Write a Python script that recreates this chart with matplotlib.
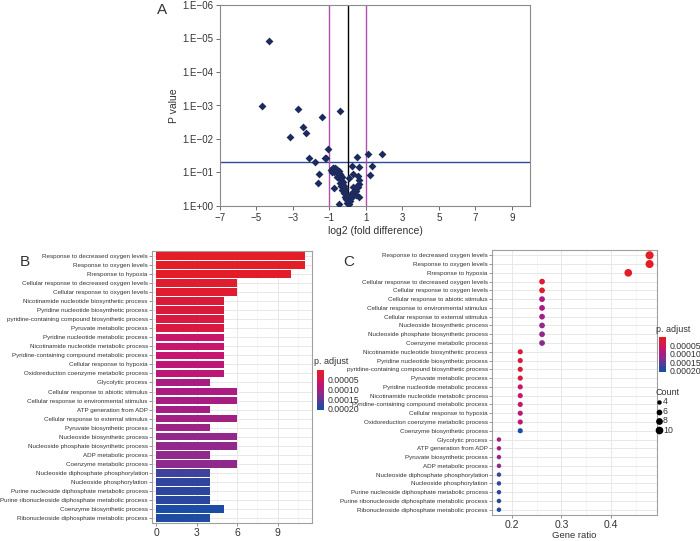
import numpy as np
import matplotlib
matplotlib.use('Agg')
import matplotlib.pyplot as plt
from matplotlib.colors import LinearSegmentedColormap, Normalize
from matplotlib.cm import ScalarMappable

plt.rcParams['font.family'] = ['Liberation Sans', 'DejaVu Sans']

# ---- panel A: volcano plot (log2 fold change, p value) ----
a_fc = [-4.33, -4.69, -2.75, -1.42, -0.40, -2.47, -2.29, -3.15, -1.09, -2.13,
        -1.25, -1.20, -1.78, 0.53, 1.09, 1.91, 0.22, 0.64, 1.33, 1.22,
        -1.55, -1.60, -0.76, -0.45, 0.29,
        -0.90, -0.82, -0.78, -0.72, -0.68, -0.62, -0.58, -0.85, -0.75, -0.65,
        -0.55, -0.48, -0.42, -0.50, -0.38, -0.45, -0.35, -0.30, -0.40, -0.32,
        -0.25, -0.36, -0.28, -0.20, -0.30, -0.22, -0.15, -0.18, -0.10, -0.12,
        -0.05, -0.08, 0.00, -0.02, 0.05, 0.08, 0.12, 0.15, 0.20, 0.25,
        0.30, 0.35, 0.40, 0.45, 0.50, 0.55, 0.60, 0.62, 0.58, 0.45,
        0.32, 0.10, 0.60, -0.60]
a_p = [1.2e-5, 1.05e-3, 1.3e-3, 2.2e-3, 1.5e-3, 4.4e-3, 6.8e-3, 8.9e-3, 0.020, 0.038,
       0.037, 0.037, 0.048, 0.035, 0.028, 0.028, 0.062, 0.069, 0.066, 0.12,
       0.11, 0.20, 0.30, 0.89, 0.11,
       0.085, 0.075, 0.071, 0.080, 0.071, 0.076, 0.085, 0.095, 0.10, 0.09,
       0.10, 0.09, 0.11, 0.12, 0.13, 0.15, 0.17, 0.14, 0.20, 0.22,
       0.19, 0.25, 0.28, 0.26, 0.33, 0.36, 0.32, 0.42, 0.45, 0.55,
       0.50, 0.63, 0.70, 0.80, 0.85, 0.60, 0.52, 0.72, 0.45, 0.55,
       0.38, 0.42, 0.30, 0.35, 0.25, 0.28, 0.22, 0.17, 0.13, 0.48,
       0.27, 0.15, 0.55, 0.14]

# ---- panel B: GO terms, counts, adjusted p ----
b_terms = ['Response to decreased oxygen levels', 'Response to oxygen levels',
           'Rresponse to hypoxia', 'Cellular response to decreased oxygen levels',
           'Cellular response to oxygen levels', 'Nicotinamide nucleotide biosynthetic process',
           'Pyridine nucleotide biosynthetic process', 'pyridine-containing compound biosynthetic process',
           'Pyruvate metabolic process', 'Pyridine nucleotide metabolic process',
           'Nicotinamide nucleotide metabolic process', 'Pyridine-containing compound metabolic process',
           'Cellular response to hypoxia', 'Oxidoreduction coenzyme metabolic process',
           'Glycolytic process', 'Cellular response to abiotic stimulus',
           'Cellular response to environmental stimulus', 'ATP generation from ADP',
           'Cellular response to external stimulus', 'Pyruvate biosynthetic process',
           'Nucleoside biosynthetic process', 'Nucleoside phosphate biosynthetic process',
           'ADP metabolic process', 'Coenzyme metabolic process',
           'Nucleoside diphosphate phosphorylation', 'Nucleoside phosphorylation',
           'Purine nucleoside diphosphate metabolic process',
           'Purine ribonucleoside diphosphate metabolic process',
           'Coenzyme biosynthetic process', 'Ribonucleoside diphosphate metabolic process']
b_count = [11, 11, 10, 6, 6, 5, 5, 5, 5, 5, 5, 5, 5, 5, 4, 6, 6, 4, 6, 4,
           6, 6, 4, 6, 4, 4, 4, 4, 5, 4]
b_padj = [1e-7, 2e-6, 5e-6, 1.5e-5, 1.5e-5, 3.0e-5, 3.2e-5, 3.4e-5, 3.6e-5, 6.6e-5,
          6.8e-5, 7.0e-5, 8.0e-5, 8.2e-5, 1.0e-4, 9.8e-5, 1.0e-4, 1.03e-4, 1.05e-4, 1.08e-4,
          1.2e-4, 1.2e-4, 1.22e-4, 1.24e-4, 1.7e-4, 1.78e-4, 1.8e-4, 1.82e-4, 2.06e-4, 2.0e-4]

# ---- panel C: dot plot order and gene ratio ----
c_terms = ['Response to decreased oxygen levels', 'Response to oxygen levels',
           'Rresponse to hypoxia', 'Cellular response to decreased oxygen levels',
           'Cellular response to oxygen levels', 'Cellular response to abiotic stimulus',
           'Cellular response to environmental stimulus', 'Cellular response to external stimulus',
           'Nucleoside biosynthetic process', 'Nucleoside phosphate biosynthetic process',
           'Coenzyme metabolic process', 'Nicotinamide nucleotide biosynthetic process',
           'Pyridine nucleotide biosynthetic process', 'pyridine-containing compound biosynthetic process',
           'Pyruvate metabolic process', 'Pyridine nucleotide metabolic process',
           'Nicotinamide nucleotide metabolic process', 'Pyridine-containing compound metabolic process',
           'Cellular response to hypoxia', 'Oxidoreduction coenzyme metabolic process',
           'Coenzyme biosynthetic process', 'Glycolytic process', 'ATP generation from ADP',
           'Pyruvate biosynthetic process', 'ADP metabolic process',
           'Nucleoside diphosphate phosphorylation', 'Nucleoside phosphorylation',
           'Purine nucleoside diphosphate metabolic process',
           'Purine ribonucleoside diphosphate metabolic process',
           'Ribonucleoside diphosphate metabolic process']
c_ratio = [0.478, 0.478, 0.435, 0.261, 0.261, 0.261, 0.261, 0.261, 0.261, 0.261,
           0.261, 0.217, 0.217, 0.217, 0.217, 0.217, 0.217, 0.217, 0.217, 0.217,
           0.217, 0.174, 0.174, 0.174, 0.174, 0.174, 0.174, 0.174, 0.174, 0.174]
count_ticks = [4, 6, 8, 10]
padj_ticks = [0.00005, 0.00010, 0.00015, 0.00020]

cmap = LinearSegmentedColormap.from_list('padj', [
    (0.0, '#e41e26'), (0.15, '#da1a3c'), (0.33, '#c8156e'), (0.45, '#b0197f'),
    (0.6, '#8e2a8c'), (0.8, '#4b3e98'), (0.88, '#2a479f'), (1.0, '#1c4ca3')])
norm = Normalize(vmin=min(b_padj), vmax=max(b_padj))

W, H = 700.0, 541.0
def box(x0, y0, x1, y1):
    # pixel box -> figure fraction
    return [x0 / W, 1 - y1 / H, (x1 - x0) / W, (y1 - y0) / H]

fig = plt.figure(figsize=(7, 5.41), dpi=100)
txt = '#333333'

# ================= A =================
ax = fig.add_axes(box(220, 5, 530, 206))
ax.scatter(a_fc, a_p, marker='D', s=16, color='#1d2a5e', zorder=3, linewidths=0)
ax.axhline(0.05, color='#2c4b9b', lw=1.0, zorder=2)
ax.axvline(-1, color='#b04db0', lw=1.0, zorder=2)
ax.axvline(1, color='#b04db0', lw=1.0, zorder=2)
ax.axvline(0, color='black', lw=1.0, zorder=2)
ax.set_yscale('log')
ax.set_ylim(1, 1e-6)
ax.set_xlim(-7, 10)
ax.set_xticks(np.arange(-7, 10, 2))
ax.set_xticklabels([str(v).replace('-', '\u2212') for v in range(-7, 10, 2)])
ax.set_yticks([10.0 ** -k for k in range(7)])
ax.set_yticklabels(['1.E+00'] + ['1.E\u2212%02d' % k for k in range(1, 7)])
ax.yaxis.set_minor_locator(matplotlib.ticker.NullLocator())
for s in ax.spines.values():
    s.set_color('#8a8a8a')
    s.set_linewidth(0.8)
ax.tick_params(length=3, width=0.6, color='#555555', labelsize=7, labelcolor=txt, pad=2)
ax.set_xlabel('log2 (fold difference)', fontsize=7.5, color=txt, labelpad=2)
ax.set_ylabel('P value', fontsize=7.5, color=txt, labelpad=2)
fig.text(157 / W, 1 - 10 / H, 'A', fontsize=11, va='center', ha='left', color=txt)

def gg(ax):
    for s in ax.spines.values():
        s.set_color('#a0a0a0')
        s.set_linewidth(0.8)
    ax.set_axisbelow(True)
    ax.grid(True, which='major', color='#e4e4e4', lw=0.6)
    ax.grid(True, which='minor', axis='x', color='#f0f0f0', lw=0.4)
    ax.tick_params(axis='y', length=2, width=0.5, color='#666666', labelsize=4.5,
                   labelcolor=txt, pad=1)
    ax.tick_params(axis='x', length=2, width=0.5, color='#666666', labelsize=7.5,
                   labelcolor=txt, pad=1.5)
    ax.tick_params(which='minor', length=0)

# ================= B =================
n = len(b_terms)
yb = np.arange(n)
axb = fig.add_axes(box(152, 251, 312, 523))
axb.barh(yb, b_count, height=0.88, color=cmap(norm(b_padj)), zorder=3)
axb.set_yticks(yb)
axb.set_yticklabels(b_terms)
axb.set_ylim(n - 0.4, -0.6)
axb.set_xlim(-0.3, 11.55)
axb.set_xticks([0, 3, 6, 9])
axb.set_xticks([1.5, 4.5, 7.5, 10.5], minor=True)
gg(axb)
fig.text(20 / W, 1 - 262 / H, 'B', fontsize=11, va='center', ha='left', color=txt)

def pbar(x0, y0, x1, y1, title_y):
    cax = fig.add_axes(box(x0, y0, x1, y1))
    cb = fig.colorbar(ScalarMappable(norm=norm, cmap=cmap), cax=cax)
    cax.invert_yaxis()
    cb.set_ticks(padj_ticks)
    cb.set_ticklabels(['%.5f' % v for v in padj_ticks])
    cb.outline.set_visible(False)
    cax.tick_params(length=1.5, width=0.5, color='white', labelsize=6.3,
                    labelcolor=txt, pad=1)
    fig.text(x0 / W - 0.004, 1 - title_y / H, 'p. adjust', fontsize=6.5,
             va='center', ha='left', color=txt)

pbar(317, 370, 324, 410, 362)

# ================= C =================
lookup_n = dict(zip(b_terms, b_count))
lookup_p = dict(zip(b_terms, b_padj))
c_count = [lookup_n[t] for t in c_terms]
c_padj = [lookup_p[t] for t in c_terms]

def dot_size(c):
    d_px = np.sqrt(np.maximum(6.5 * np.asarray(c, float) - 6.0, 4))
    return (d_px / 1.389) ** 2

yc = np.arange(len(c_terms))
axc = fig.add_axes(box(492, 250, 657, 515))
axc.scatter(c_ratio, yc, s=dot_size(c_count), c=cmap(norm(c_padj)), zorder=3,
            linewidths=0)
axc.set_yticks(yc)
axc.set_yticklabels(c_terms)
axc.set_ylim(len(c_terms) - 0.4, -0.6)
axc.set_xlim(0.16, 0.493)
axc.set_xticks([0.2, 0.3, 0.4])
axc.set_xticks([0.25, 0.35, 0.45], minor=True)
gg(axc)
axc.set_xlabel('Gene ratio', fontsize=6.8, color=txt, labelpad=0.5)
fig.text(343 / W, 1 - 262 / H, 'C', fontsize=11, va='center', ha='left', color=txt)

pbar(659, 337, 666, 372, 329)

handles = [axc.scatter([], [], s=dot_size(c), color='black', linewidths=0) for c in count_ticks]
leg = axc.legend(handles, [str(c) for c in count_ticks], title='Count', loc='upper left',
                 bbox_to_anchor=(655 / W, 1 - 388 / H), bbox_transform=fig.transFigure,
                 frameon=False, fontsize=6.3, title_fontsize=6.5, handletextpad=0.1,
                 labelspacing=0.05, borderpad=0, handlelength=0.8, borderaxespad=0,
                 alignment='left')
for t in leg.get_texts():
    t.set_color(txt)
leg.get_title().set_color(txt)

fig.savefig('out.png', dpi=100)
